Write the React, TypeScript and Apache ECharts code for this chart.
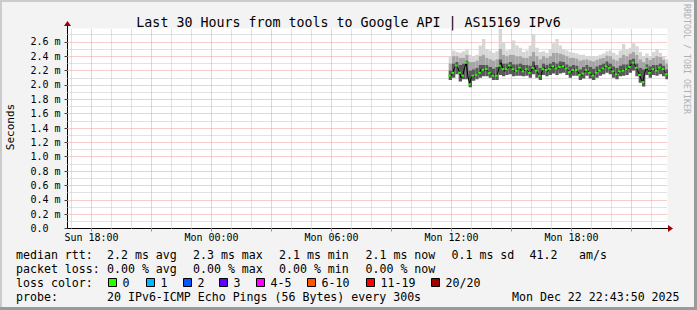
import React, { useEffect, useRef } from "react";
import * as echarts from "echarts";

const FONT = '"DejaVu Sans Mono", monospace';
const TITLE = "Last 30 Hours from tools to Google API | AS15169 IPv6";

// x axis in hours since Sun 00:00
const X_MIN = 16.8;
const X_MAX = 46.8;
const X_LABEL_HOURS = [18, 24, 30, 36, 42];
const X_MAJOR_HOURS = [18, 21, 24, 27, 30, 33, 36, 39, 42, 45];
const X_MINOR_HOURS = [17, 19, 20, 22, 23, 25, 26, 28, 29, 31, 32, 34, 35, 37, 38, 40, 41, 43, 44, 46];

// y axis in ms
const Y_MAX = 2.787;
const Y_LABEL_VALUES = [0, 0.2, 0.4, 0.6, 0.8, 1.0, 1.2, 1.4, 1.6, 1.8, 2.0, 2.2, 2.4, 2.6];
const Y_MAJOR_VALUES = [0.2, 0.4, 0.6, 0.8, 1.0, 1.2, 1.4, 1.6, 1.8, 2.0, 2.2, 2.4, 2.6];
const Y_MINOR_VALUES = [0.1, 0.3, 0.5, 0.7, 0.9, 1.1, 1.3, 1.5, 1.7, 1.9, 2.1, 2.3, 2.5, 2.7];

// data: 5-minute samples starting Mon 11:54
const MEDIAN_START = 35.9;
const STEP = 1 / 12;

const medianRtt = [
  2.13, 2.13, 2.17, 2.24, 2.27, 2.24, 2.17, 2.10, 2.13, 2.24,
  2.31, 2.13, 2.01, 2.10, 2.13, 2.12, 2.14, 2.15, 2.17, 2.22,
  2.21, 2.20, 2.22, 2.19, 2.17, 2.16, 2.13, 2.14, 2.13, 2.17,
  2.27, 2.31, 2.22, 2.19, 2.22, 2.23, 2.27, 2.24, 2.22, 2.19,
  2.20, 2.22, 2.24, 2.20, 2.19, 2.20, 2.22, 2.20, 2.17, 2.19,
  2.24, 2.27, 2.20, 2.17, 2.13, 2.14, 2.22, 2.24, 2.21, 2.19,
  2.22, 2.24, 2.26, 2.25, 2.23, 2.22, 2.25, 2.27, 2.26, 2.25,
  2.23, 2.21, 2.18, 2.17, 2.21, 2.22, 2.21, 2.19, 2.14, 2.13,
  2.16, 2.18, 2.21, 2.20, 2.17, 2.15, 2.13, 2.15, 2.17, 2.19,
  2.20, 2.21, 2.23, 2.24, 2.26, 2.27, 2.24, 2.22, 2.19, 2.17,
  2.15, 2.16, 2.19, 2.21, 2.20, 2.22, 2.22, 2.22, 2.25, 2.29,
  2.31, 2.29, 2.24, 2.20, 2.14, 2.08, 2.04, 2.15, 2.24, 2.21,
  2.17, 2.20, 2.22, 2.21, 2.20, 2.22, 2.24, 2.23, 2.22, 2.19, 2.15,
];

// smoke columns, one per 10 minutes
const smokeMin = [
  2.07, 2.10, 2.15, 2.05, 2.08, 2.08, 1.97, 2.06, 2.08, 2.10,
  2.12, 2.12, 2.10, 2.07, 2.07, 2.14, 2.12, 2.14, 2.15, 2.12,
  2.13, 2.13, 2.12, 2.13, 2.10, 2.15, 2.10, 2.07, 2.14, 2.12,
  2.14, 2.16, 2.14, 2.16, 2.17, 2.14, 2.10, 2.13, 2.13, 2.07,
  2.09, 2.13, 2.09, 2.07, 2.10, 2.13, 2.15, 2.17, 2.15, 2.10,
  2.08, 2.12, 2.13, 2.14, 2.17, 2.20, 2.12, 2.03, 1.98, 2.14,
  2.10, 2.14, 2.13, 2.15, 2.12, 2.08,
];
const smokeDark = [
  2.20, 2.30, 2.32, 2.28, 2.30, 2.34, 2.20, 2.22, 2.24, 2.28,
  2.28, 2.28, 2.25, 2.23, 2.25, 2.36, 2.30, 2.30, 2.32, 2.29,
  2.29, 2.30, 2.28, 2.28, 2.27, 2.33, 2.28, 2.24, 2.30, 2.28,
  2.30, 2.32, 2.30, 2.33, 2.32, 2.29, 2.26, 2.28, 2.27, 2.22,
  2.25, 2.28, 2.25, 2.23, 2.26, 2.28, 2.30, 2.33, 2.30, 2.26,
  2.24, 2.27, 2.29, 2.29, 2.35, 2.37, 2.30, 2.24, 2.22, 2.29,
  2.26, 2.28, 2.28, 2.30, 2.27, 2.22,
];
const smokeMid = [
  2.30, 2.40, 2.40, 2.38, 2.38, 2.42, 2.32, 2.32, 2.34, 2.40,
  2.42, 2.38, 2.36, 2.34, 2.36, 2.50, 2.42, 2.40, 2.42, 2.42,
  2.40, 2.40, 2.38, 2.38, 2.40, 2.46, 2.40, 2.36, 2.40, 2.38,
  2.40, 2.45, 2.45, 2.44, 2.42, 2.40, 2.38, 2.38, 2.37, 2.34,
  2.35, 2.36, 2.34, 2.33, 2.35, 2.37, 2.38, 2.41, 2.40, 2.36,
  2.34, 2.38, 2.42, 2.40, 2.44, 2.46, 2.42, 2.36, 2.32, 2.38,
  2.35, 2.38, 2.40, 2.39, 2.35, 2.30,
];
const smokeMax = [
  2.40, 2.48, 2.46, 2.45, 2.47, 2.49, 2.42, 2.40, 2.42, 2.55,
  2.64, 2.50, 2.48, 2.45, 2.47, 2.78, 2.60, 2.48, 2.50, 2.62,
  2.55, 2.52, 2.46, 2.48, 2.55, 2.71, 2.52, 2.46, 2.47, 2.45,
  2.50, 2.58, 2.64, 2.55, 2.50, 2.48, 2.46, 2.45, 2.44, 2.42,
  2.42, 2.40, 2.40, 2.40, 2.40, 2.42, 2.44, 2.47, 2.48, 2.45,
  2.42, 2.48, 2.57, 2.50, 2.52, 2.58, 2.54, 2.46, 2.40, 2.44,
  2.40, 2.46, 2.50, 2.45, 2.40, 2.36,
];

const LOSS_LABELS = ["0", "1", "2", "3", "4-5", "6-10", "11-19", "20/20"];
const LOSS_COLORS = ["#26ff00", "#00b8ff", "#0059ff", "#5e00ff", "#ff00ff", "#ff5500", "#ff0000", "#a10000"];

const LEGEND_ROWS: [number, string][][] = [
  [[16, "median rtt:"], [107, "2.2 ms avg"], [193, "2.3 ms max"], [279, "2.1 ms min"], [365.5, "2.1 ms now"], [451.5, "0.1 ms sd"], [529.5, "41.2"], [579, "am/s"]],
  [[16, "packet loss:"], [107, "0.00 % avg"], [193, "0.00 % max"], [279, "0.00 % min"], [365.5, "0.00 % now"]],
  [[16, "loss color:"]],
  [[16, "probe:"], [107, "20 IPv6-ICMP Echo Pings (56 Bytes) every 300s"], [512, "Mon Dec 22 22:43:50 2025"]],
];
const LEGEND_ROW_Y = [254.5, 268.5, 282.5, 296.5];
const LOSS_BOX_X = [108, 146, 183, 219, 256, 307, 366, 431];
const LOSS_TEXT_X = [122.5, 160.5, 197.5, 233.5, 270.5, 321.5, 380.5, 445.5];

function xLabel(v: number) {
  const day = v < 24 ? "Sun" : "Mon";
  const h = Math.round(v) % 24;
  return `${day} ${String(h).padStart(2, "0")}:00`;
}

export default function App() {
  const ref = useRef<HTMLDivElement>(null);

  useEffect(() => {
    if (!ref.current) return;
    const chart = echarts.init(ref.current, null, { renderer: "svg" });

    const gridLines: any[] = [
      ...X_MINOR_HOURS.map((h) => ({ xAxis: h, lineStyle: { color: "#c4c4c4", type: [1, 1], width: 1 } })),
      ...Y_MINOR_VALUES.map((v) => ({ yAxis: v, lineStyle: { color: "#c4c4c4", type: [1, 1], width: 1 } })),
      ...X_MAJOR_HOURS.map((h) => ({ xAxis: h, lineStyle: { color: "#ee9a9a", type: [1, 1], width: 1 } })),
      ...Y_MAJOR_VALUES.map((v) => ({ yAxis: v, lineStyle: { color: "#ee9a9a", type: [1, 1], width: 1 } })),
    ];

    const smokeData = smokeMin.map((v, j) => [
      MEDIAN_START + (2 * j + 0.5) * STEP,
      v,
      smokeDark[j],
      smokeMid[j],
      smokeMax[j],
    ]);

    const textEls: any[] = [];
    LEGEND_ROWS.forEach((row, r) => {
      row.forEach(([x, t]) => {
        textEls.push({
          type: "text",
          x,
          y: LEGEND_ROW_Y[r],
          style: { text: t, fill: "#000", font: `11.6px ${FONT}`, align: "left", verticalAlign: "middle" },
        });
      });
    });
    LOSS_LABELS.forEach((lab, k) => {
      textEls.push({
        type: "rect",
        shape: { x: LOSS_BOX_X[k] + 0.5, y: 278.5, width: 8, height: 8 },
        style: { fill: LOSS_COLORS[k], stroke: "#000", lineWidth: 1 },
      });
      textEls.push({
        type: "text",
        x: LOSS_TEXT_X[k],
        y: LEGEND_ROW_Y[2],
        style: { text: lab, fill: "#000", font: `11.6px ${FONT}`, align: "left", verticalAlign: "middle" },
      });
    });

    const option: any = {
      animation: false,
      backgroundColor: "#f3f3f3",
      title: {
        text: TITLE,
        left: "center",
        top: 11,
        textStyle: { fontFamily: FONT, fontSize: 13.3, fontWeight: "normal", color: "#000" },
      },
      grid: {
        left: 67.5,
        top: 28.5,
        width: 600,
        height: 200,
        show: true,
        backgroundColor: "#ffffff",
        borderWidth: 0,
        containLabel: false,
      },
      xAxis: {
        type: "value",
        min: X_MIN,
        max: X_MAX,
        splitLine: { show: false },
        axisLine: { show: true, onZero: false, lineStyle: { color: "#000", width: 1 } },
        axisTick: { show: true, customValues: X_MAJOR_HOURS, length: 3, lineStyle: { color: "#e07a7a" } },
        axisLabel: {
          customValues: X_LABEL_HOURS,
          formatter: (v: number) => xLabel(v),
          margin: 4,
          fontSize: 10,
          fontFamily: FONT,
          color: "#000",
        },
      },
      yAxis: {
        type: "value",
        min: 0,
        max: Y_MAX,
        splitLine: { show: false },
        axisLine: { show: true, lineStyle: { color: "#000", width: 1 } },
        axisTick: { show: true, customValues: Y_LABEL_VALUES, length: 3, lineStyle: { color: "#444" } },
        axisLabel: {
          customValues: Y_LABEL_VALUES,
          formatter: (v: number) => (Math.abs(v) < 1e-9 ? "0.0" : `${v.toFixed(1)} m`),
          align: "left",
          margin: 37,
          fontSize: 10,
          fontFamily: FONT,
          color: "#000",
        },
      },
      series: [
        {
          type: "line",
          data: [],
          silent: true,
          z: 1,
          markLine: {
            silent: true,
            z: 1,
            symbol: ["none", "none"],
            label: { show: false },
            emphasis: { disabled: true },
            animation: false,
            data: gridLines,
          },
        },
        {
          type: "custom",
          z: 2,
          silent: true,
          data: smokeData,
          clip: true,
          renderItem: (params: any, api: any) => {
            const t = api.value(0);
            const xl = api.coord([t - STEP, 0])[0];
            const xr = api.coord([t + STEP, 0])[0];
            const yMin = api.coord([t, api.value(1)])[1];
            const yDark = api.coord([t, api.value(2)])[1];
            const yMid = api.coord([t, api.value(3)])[1];
            const yMax = api.coord([t, api.value(4)])[1];
            const w = xr - xl;
            return {
              type: "group",
              children: [
                { type: "rect", shape: { x: xl, y: yMax, width: w, height: yMid - yMax }, style: { fill: "#d6d6d6" } },
                { type: "rect", shape: { x: xl, y: yMid, width: w, height: yDark - yMid }, style: { fill: "#a6a6a6" } },
                { type: "rect", shape: { x: xl, y: yDark, width: w, height: yMin - yDark }, style: { fill: "#585858" } },
              ],
            };
          },
        },
        {
          type: "line",
          z: 3,
          silent: true,
          data: medianRtt.map((v, i) => [MEDIAN_START + i * STEP, v]),
          showSymbol: true,
          showAllSymbol: true,
          symbol: "rect",
          symbolSize: (_v: any, p: any) => (p.dataIndex % 2 === 0 ? [2.5, 2] : 0),
          itemStyle: { color: "#26ff00" },
          lineStyle: { color: "#000000", width: 1 },
        },
      ],
      graphic: [
        // frame
        { type: "rect", shape: { x: 0, y: 0, width: 697, height: 2 }, style: { fill: "#cccccc" }, z: 10 },
        { type: "rect", shape: { x: 0, y: 0, width: 2, height: 310 }, style: { fill: "#cccccc" }, z: 10 },
        { type: "rect", shape: { x: 0, y: 307, width: 697, height: 3 }, style: { fill: "#9a9a9a" }, z: 10 },
        { type: "rect", shape: { x: 694, y: 0, width: 3, height: 310 }, style: { fill: "#9a9a9a" }, z: 10 },
        // axis extensions and arrows
        { type: "line", shape: { x1: 667.5, y1: 228.5, x2: 670, y2: 228.5 }, style: { stroke: "#000", lineWidth: 1 }, z: 10 },
        { type: "polygon", shape: { points: [[668, 225], [673, 228.5], [668, 232]] }, style: { fill: "#a00000" }, z: 10 },
        { type: "line", shape: { x1: 67.5, y1: 28.5, x2: 67.5, y2: 25 }, style: { stroke: "#000", lineWidth: 1 }, z: 10 },
        { type: "polygon", shape: { points: [[64, 26], [67.5, 21], [71, 26]] }, style: { fill: "#a00000" }, z: 10 },
        // side labels
        {
          type: "text",
          x: 10,
          y: 127,
          rotation: Math.PI / 2,
          style: { text: "Seconds", fill: "#000", font: `11px ${FONT}`, align: "center", verticalAlign: "middle" },
        },
        {
          type: "text",
          x: 687,
          y: 59,
          rotation: -Math.PI / 2,
          style: { text: "RRDTOOL / TOBI OETIKER", fill: "#b0b0b0", font: `8.3px ${FONT}`, align: "center", verticalAlign: "middle" },
        },
        ...textEls,
      ],
    };

    chart.setOption(option);
    return () => chart.dispose();
  }, []);

  return (
    <div
      ref={ref}
      style={{ position: "fixed", left: 0, top: 0, width: 697, height: 310 }}
    />
  );
}
